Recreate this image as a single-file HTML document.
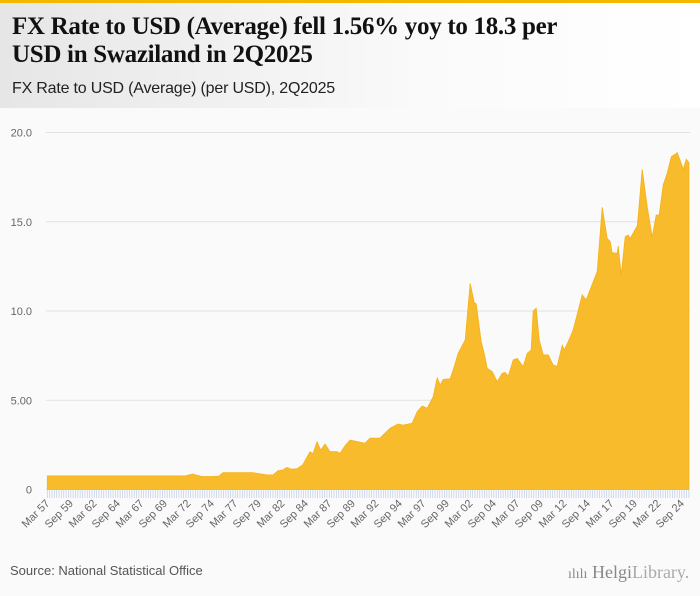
<!DOCTYPE html>
<html><head><meta charset="utf-8"><style>
body{margin:0;width:700px;height:596px;background:#fafafa;font-family:"Liberation Sans",sans-serif;overflow:hidden;position:relative}
#topbar{position:absolute;left:0;top:0;width:700px;height:3px;background:#f5b800}
#header{position:absolute;left:0;top:3px;width:700px;height:105px;background:linear-gradient(90deg,#e6e6e6,#fafafa 60%,#fff)}
#title{position:absolute;left:12px;top:13px;font-family:"Liberation Serif",serif;font-weight:bold;font-size:25px;line-height:28px;color:#111;letter-spacing:-0.3px;white-space:nowrap}
#subtitle{position:absolute;left:12px;top:80px;font-size:16px;color:#222;letter-spacing:-0.2px}
#source{position:absolute;left:10px;top:563px;font-size:13px;color:#555}
#logo{position:absolute;left:568px;top:562px;font-family:"Liberation Serif",serif;font-size:18px;color:#888}
</style></head><body>
<div id="topbar"></div>
<div id="header"></div>
<div id="title">FX Rate to USD (Average) fell 1.56% yoy to 18.3 per<br>USD in Swaziland in 2Q2025</div>
<div id="subtitle">FX Rate to USD (Average) (per USD), 2Q2025</div>
<svg id="chart" width="700" height="596" style="position:absolute;left:0;top:0"></svg>
<div id="source">Source: National Statistical Office</div>
<div id="logo"><span style="font-size:14px">ılılı</span> Helgi<span style="color:#aaa">Library.</span></div>
<script>
const dates=[1957.0,1971.65,1972.47,1973.43,1974.63,1975.27,1975.69,1978.88,1980.34,1981.01,1981.54,1982.07,1982.47,1983.0,1983.53,1984.17,1984.95,1985.27,1985.69,1986.09,1986.54,1987.07,1987.79,1988.14,1988.67,1989.2,1990.8,1991.33,1992.39,1993.46,1994.31,1994.86,1995.81,1996.35,1996.88,1997.41,1998.05,1998.48,1998.8,1999.12,1999.86,2000.29,2000.71,2001.46,2001.99,2002.41,2002.63,2003.16,2003.48,2003.8,2004.33,2004.86,2005.39,2005.71,2006.03,2006.56,2006.99,2007.63,2008.05,2008.48,2008.69,2009.01,2009.33,2009.76,2010.29,2010.82,2011.24,2011.78,2011.99,2012.41,2012.95,2013.48,2013.9,2014.33,2014.75,2015.5,2016.03,2016.56,2016.88,2017.09,2017.63,2017.73,2018.05,2018.48,2018.8,2019.01,2019.76,2019.86,2020.29,2020.82,2021.35,2021.78,2022.1,2022.52,2022.95,2023.38,2024.02,2024.66,2024.98,2025.25];
const values=[0.76,0.76,0.87,0.73,0.73,0.75,0.94,0.94,0.82,0.82,1.05,1.09,1.24,1.14,1.16,1.37,2.12,2.0,2.68,2.21,2.55,2.12,2.12,2.02,2.44,2.77,2.59,2.88,2.88,3.43,3.67,3.6,3.71,4.36,4.68,4.55,5.2,6.26,5.85,6.17,6.2,6.88,7.63,8.38,11.55,10.47,10.4,8.28,7.63,6.79,6.6,6.04,6.51,6.56,6.34,7.26,7.34,6.88,7.63,7.82,10.0,10.16,8.38,7.54,7.54,6.97,6.91,8.08,7.82,8.28,8.94,10.02,10.9,10.62,11.19,12.2,15.81,14.07,13.88,13.27,13.23,13.64,12.02,14.16,14.26,14.07,14.76,15.3,17.94,15.85,14.13,15.38,15.38,17.06,17.71,18.64,18.87,17.94,18.5,18.3];
const yTicks=[0,5,10,15,20];
const yTickLabels=["0","5.00","10.0","15.0","20.0"];
const xLabels=["Mar 57","Sep 59","Mar 62","Sep 64","Mar 67","Sep 69","Mar 72","Sep 74","Mar 77","Sep 79","Mar 82","Sep 84","Mar 87","Sep 89","Mar 92","Sep 94","Mar 97","Sep 99","Mar 02","Sep 04","Mar 07","Sep 09","Mar 12","Sep 14","Mar 17","Sep 19","Mar 22","Sep 24"];
const NS="http://www.w3.org/2000/svg";
const svg=document.getElementById('chart');
const X0=47.3,QSTEP=2.35,Y0=489.5,YS=17.85;
const nQ=Math.round((2025.25-1957)*4)+1;
function xq(i){return X0+i*QSTEP;}
function xt(t){return X0+(t-1957)*4*QSTEP;}
function yv(v){return Y0-v*YS;}
function mk(tag,attrs){const e=document.createElementNS(NS,tag);for(const k in attrs)e.setAttribute(k,attrs[k]);svg.appendChild(e);return e;}
yTicks.forEach((v,i)=>{
  const g=mk('line',{x1:46,x2:690,y1:yv(v),y2:yv(v),stroke:'#e2e2e2','stroke-width':1});
  
  
  const t=mk('text',{x:32,y:yv(v)+4,'text-anchor':'end','font-size':11,fill:'#666','font-family':'Liberation Sans, sans-serif'});
  t.textContent=yTickLabels[i];
  
  
});
let d='M'+xt(dates[0])+','+Y0;
dates.forEach((t,i)=>{d+=' L'+xt(t).toFixed(1)+','+yv(values[i]).toFixed(1);});
d+=' L'+xt(dates[dates.length-1]).toFixed(1)+','+Y0+' Z';
const area=mk('path',{d:d,fill:'#f8bb2c',stroke:'#f5b21a','stroke-width':0.8});


for(let i=0;i<nQ;i++){
  const tk=mk('line',{x1:xq(i),x2:xq(i),y1:490,y2:498,stroke:'#c5d3ea','stroke-width':0.8});
  
  
}
xLabels.forEach((lab,i)=>{
  const x=xq(i*10)+3,y=504;
  const t=mk('text',{x:x,y:y,'text-anchor':'end','font-size':11,fill:'#666','font-family':'Liberation Sans, sans-serif',transform:'rotate(-45 '+x+' '+y+')'});
  t.textContent=lab;
  
  
});
</script>
</body></html>
